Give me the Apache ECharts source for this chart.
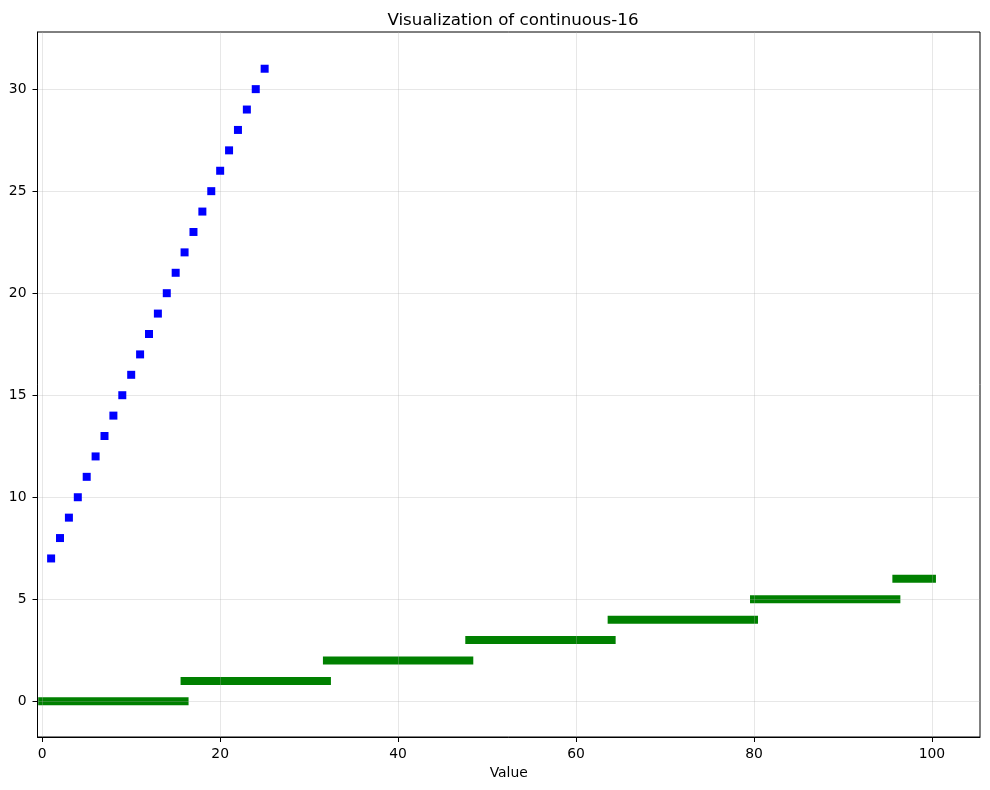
<!DOCTYPE html>
<html>
<head>
<meta charset="utf-8">
<script src="https://cdn.jsdelivr.net/npm/echarts@6/dist/echarts.min.js"></script>
<style>
html,body{margin:0;padding:0;background:#fff;}
#main{width:990px;height:790px;}
</style>
</head>
<body>
<div id="main"></div>
<script>
// green steps: start, end, level
var segStart = [0, 16, 32, 48, 64, 80, 96];
var segEnd = [16, 32, 48, 64, 80, 96, 100];
var segLevel = [0, 1, 2, 3, 4, 5, 6];

// blue points
var ptX = [1, 2, 3, 4, 5, 6, 7, 8, 9, 10, 11, 12, 13, 14, 15, 16, 17, 18, 19, 20, 21, 22, 23, 24, 25];
var ptY = [7, 8, 9, 10, 11, 12, 13, 14, 15, 16, 17, 18, 19, 20, 21, 22, 23, 24, 25, 26, 27, 28, 29, 30, 31];

var xTicks = [0, 20, 40, 60, 80, 100];
var yTicks = [0, 5, 10, 15, 20, 25, 30];

var font = 'DejaVu Sans';

var segData = [];
for (var i = 0; i < segStart.length; i++) {
	segData.push([segStart[i], segEnd[i], segLevel[i]]);
}
var ptData = [];
for (var j = 0; j < ptX.length; j++) {
	ptData.push([ptX[j], ptY[j]]);
}

var myChart = echarts.init(document.getElementById('main'));
var option = {
	animation: false,
	backgroundColor: '#fff',
	title: {
		text: 'Visualization of continuous-16',
		left: 508,
		top: 7,
		textAlign: 'center',
		textStyle: {
			fontFamily: font,
			fontSize: 16.7,
			fontWeight: 'normal',
			color: '#000'
		}
	},
	grid: {
		left: 37.5,
		right: 10,
		top: 32,
		bottom: 53,
		show: true,
		borderColor: '#000',
		borderWidth: 1,
		backgroundColor: 'transparent'
	},
	xAxis: {
		type: 'value',
		min: -0.53,
		max: 105.4,
		z: 3,
		name: 'Value',
		nameLocation: 'middle',
		nameGap: 28,
		nameTextStyle: {fontFamily: font, fontSize: 13.9, color: '#000'},
		axisLine: {show: true, onZero: false, lineStyle: {color: '#000', width: 1}},
		axisTick: {show: true, length: 5, customValues: xTicks, lineStyle: {color: '#000'}},
		axisLabel: {customValues: xTicks, margin: 10, fontFamily: font, fontSize: 13.9, color: '#000'},
		splitLine: {show: true, lineStyle: {color: 'rgba(176,176,176,0.3)', width: 1}}
	},
	yAxis: {
		type: 'value',
		min: -1.75,
		max: 32.8,
		z: 3,
		axisLine: {show: true, onZero: false, lineStyle: {color: '#000', width: 1}},
		axisTick: {show: true, length: 5, customValues: yTicks, lineStyle: {color: '#000'}},
		axisLabel: {customValues: yTicks, margin: 11, fontFamily: font, fontSize: 13.9, color: '#000'},
		splitLine: {show: true, lineStyle: {color: 'rgba(176,176,176,0.3)', width: 1}}
	},
	series: [{
		type: 'custom',
		z: 1,
		data: segData,
		encode: {x: [0, 1], y: 2},
		renderItem: function (params, api) {
			var a = api.coord([api.value(0), api.value(2)]);
			var b = api.coord([api.value(1), api.value(2)]);
			return {
				type: 'rect',
				shape: {x: a[0] - 4, y: a[1] - 4, width: b[0] - a[0] + 8, height: 8},
				style: {fill: '#008000'}
			};
		}
	}, {
		type: 'scatter',
		z: 5,
		symbol: 'rect',
		symbolSize: [8, 8],
		itemStyle: {color: '#0000ff', opacity: 1},
		data: ptData
	}]
};
myChart.setOption(option);
</script>
</body>
</html>
